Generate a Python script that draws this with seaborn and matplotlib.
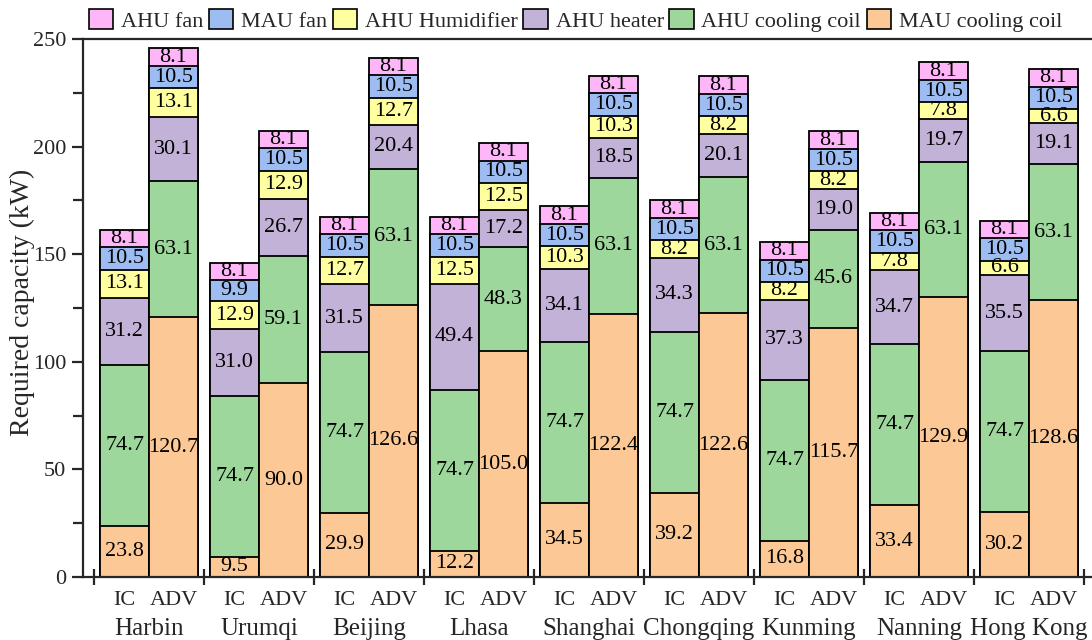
import numpy as np
import pandas as pd
import matplotlib
matplotlib.use("Agg")
import matplotlib.pyplot as plt
from matplotlib.patches import Patch
from matplotlib.ticker import MultipleLocator
import seaborn as sns

cities = ["Harbin", "Urumqi", "Beijing", "Lhasa", "Shanghai",
          "Chongqing", "Kunming", "Nanning", "Hong Kong"]
schemes = ["IC", "ADV"]

# component capacities (kW), bottom of the stack first
ic_mau_coil = [23.8, 9.5, 29.9, 12.2, 34.5, 39.2, 16.8, 33.4, 30.2]
adv_mau_coil = [120.7, 90.0, 126.6, 105.0, 122.4, 122.6, 115.7, 129.9, 128.6]
ic_ahu_coil = [74.7, 74.7, 74.7, 74.7, 74.7, 74.7, 74.7, 74.7, 74.7]
adv_ahu_coil = [63.1, 59.1, 63.1, 48.3, 63.1, 63.1, 45.6, 63.1, 63.1]
ic_heater = [31.2, 31.0, 31.5, 49.4, 34.1, 34.3, 37.3, 34.7, 35.5]
adv_heater = [30.1, 26.7, 20.4, 17.2, 18.5, 20.1, 19.0, 19.7, 19.1]
ic_humidifier = [13.1, 12.9, 12.7, 12.5, 10.3, 8.2, 8.2, 7.8, 6.6]
adv_humidifier = [13.1, 12.9, 12.7, 12.5, 10.3, 8.2, 8.2, 7.8, 6.6]
ic_mau_fan = [10.5, 9.9, 10.5, 10.5, 10.5, 10.5, 10.5, 10.5, 10.5]
adv_mau_fan = [10.5, 10.5, 10.5, 10.5, 10.5, 10.5, 10.5, 10.5, 10.5]
ic_ahu_fan = [8.1, 8.1, 8.1, 8.1, 8.1, 8.1, 8.1, 8.1, 8.1]
adv_ahu_fan = [8.1, 8.1, 8.1, 8.1, 8.1, 8.1, 8.1, 8.1, 8.1]

components = ["MAU cooling coil", "AHU cooling coil", "AHU heater",
              "AHU Humidifier", "MAU fan", "AHU fan"]
colors = {
    "MAU cooling coil": "#FCC895",
    "AHU cooling coil": "#9ED79C",
    "AHU heater": "#C2B2D7",
    "AHU Humidifier": "#FFFFA0",
    "MAU fan": "#9DBDF2",
    "AHU fan": "#FFB6F8",
}
series = {
    ("IC", "MAU cooling coil"): ic_mau_coil,
    ("ADV", "MAU cooling coil"): adv_mau_coil,
    ("IC", "AHU cooling coil"): ic_ahu_coil,
    ("ADV", "AHU cooling coil"): adv_ahu_coil,
    ("IC", "AHU heater"): ic_heater,
    ("ADV", "AHU heater"): adv_heater,
    ("IC", "AHU Humidifier"): ic_humidifier,
    ("ADV", "AHU Humidifier"): adv_humidifier,
    ("IC", "MAU fan"): ic_mau_fan,
    ("ADV", "MAU fan"): adv_mau_fan,
    ("IC", "AHU fan"): ic_ahu_fan,
    ("ADV", "AHU fan"): adv_ahu_fan,
}

rows = []
for (scheme, comp), vals in series.items():
    for city, v in zip(cities, vals):
        rows.append({"city": city, "scheme": scheme, "component": comp, "value": v})
df = pd.DataFrame(rows)
df["order"] = df["component"].map({c: i for i, c in enumerate(components)})
df = df.sort_values(["city", "scheme", "order"])
df["top"] = df.groupby(["city", "scheme"])["value"].cumsum()
df["mid"] = df["top"] - df["value"] / 2

sns.set_style("ticks")
plt.rcParams["font.family"] = ["Liberation Serif", "DejaVu Serif"]
plt.rcParams["axes.linewidth"] = 1.6

fig = plt.figure(figsize=(10.92, 6.4), dpi=100)
ax = fig.add_axes([83 / 1092, 1 - 577 / 640, 1012 / 1092, 538 / 640])

group_width = 0.89
# stacked bars: draw cumulative tops from the highest layer downwards
for comp in reversed(components):
    layer = df[df["component"] == comp]
    sns.barplot(data=layer, x="city", y="top", hue="scheme",
                order=cities, hue_order=schemes,
                palette=[colors[comp], colors[comp]], saturation=1,
                width=group_width, gap=0, dodge=True, errorbar=None,
                edgecolor="black", linewidth=1.3, legend=False, ax=ax)

offsets = {"IC": -group_width / 4, "ADV": group_width / 4}
for _, r in df.iterrows():
    x = cities.index(r["city"]) + offsets[r["scheme"]]
    ax.text(x, r["mid"], f"{r['value']:.1f}", ha="center", va="center",
            fontsize=16, color="black")

ax.set_ylim(0, 250)
ax.set_xlim(-0.6, len(cities) - 0.4)
ax.yaxis.set_major_locator(MultipleLocator(50))
ax.yaxis.set_minor_locator(MultipleLocator(25))
ax.tick_params(axis="y", which="major", direction="out", length=8, width=1.6,
               labelsize=16, pad=4)
ax.tick_params(axis="y", which="minor", direction="out", length=7, width=1.6)
ax.set_xticks(np.arange(-0.5, len(cities), 1.0))
ax.set_xticklabels([])
ax.tick_params(axis="x", which="major", direction="inout", length=11, width=1.6)
ax.set_xlabel("")
ax.set_ylabel("Required capacity (kW)", fontsize=20)
ax.yaxis.set_label_coords(-0.047, 0.51)

for i, city in enumerate(cities):
    for s in schemes:
        ax.annotate(s, xy=(i + offsets[s], 0), xycoords=("data", "axes fraction"),
                    xytext=(0, -20.5), textcoords="offset points",
                    ha="center", va="baseline", fontsize=16)
    ax.annotate(city, xy=(i, 0), xycoords=("data", "axes fraction"),
                xytext=(0, -42), textcoords="offset points",
                ha="center", va="baseline", fontsize=18)

legend_order = ["AHU fan", "MAU fan", "AHU Humidifier", "AHU heater",
                "AHU cooling coil", "MAU cooling coil"]
handles = [Patch(facecolor=colors[c], edgecolor="black", linewidth=1.2, label=c)
           for c in legend_order]
fig.legend(handles=handles, loc="center", bbox_to_anchor=(0.527, 0.968),
           ncol=6, frameon=False, fontsize=16, handlelength=1.1,
           handleheight=1.0, handletextpad=0.35, columnspacing=0.25,
           borderaxespad=0, borderpad=0)

fig.savefig("out.png", dpi=100)
